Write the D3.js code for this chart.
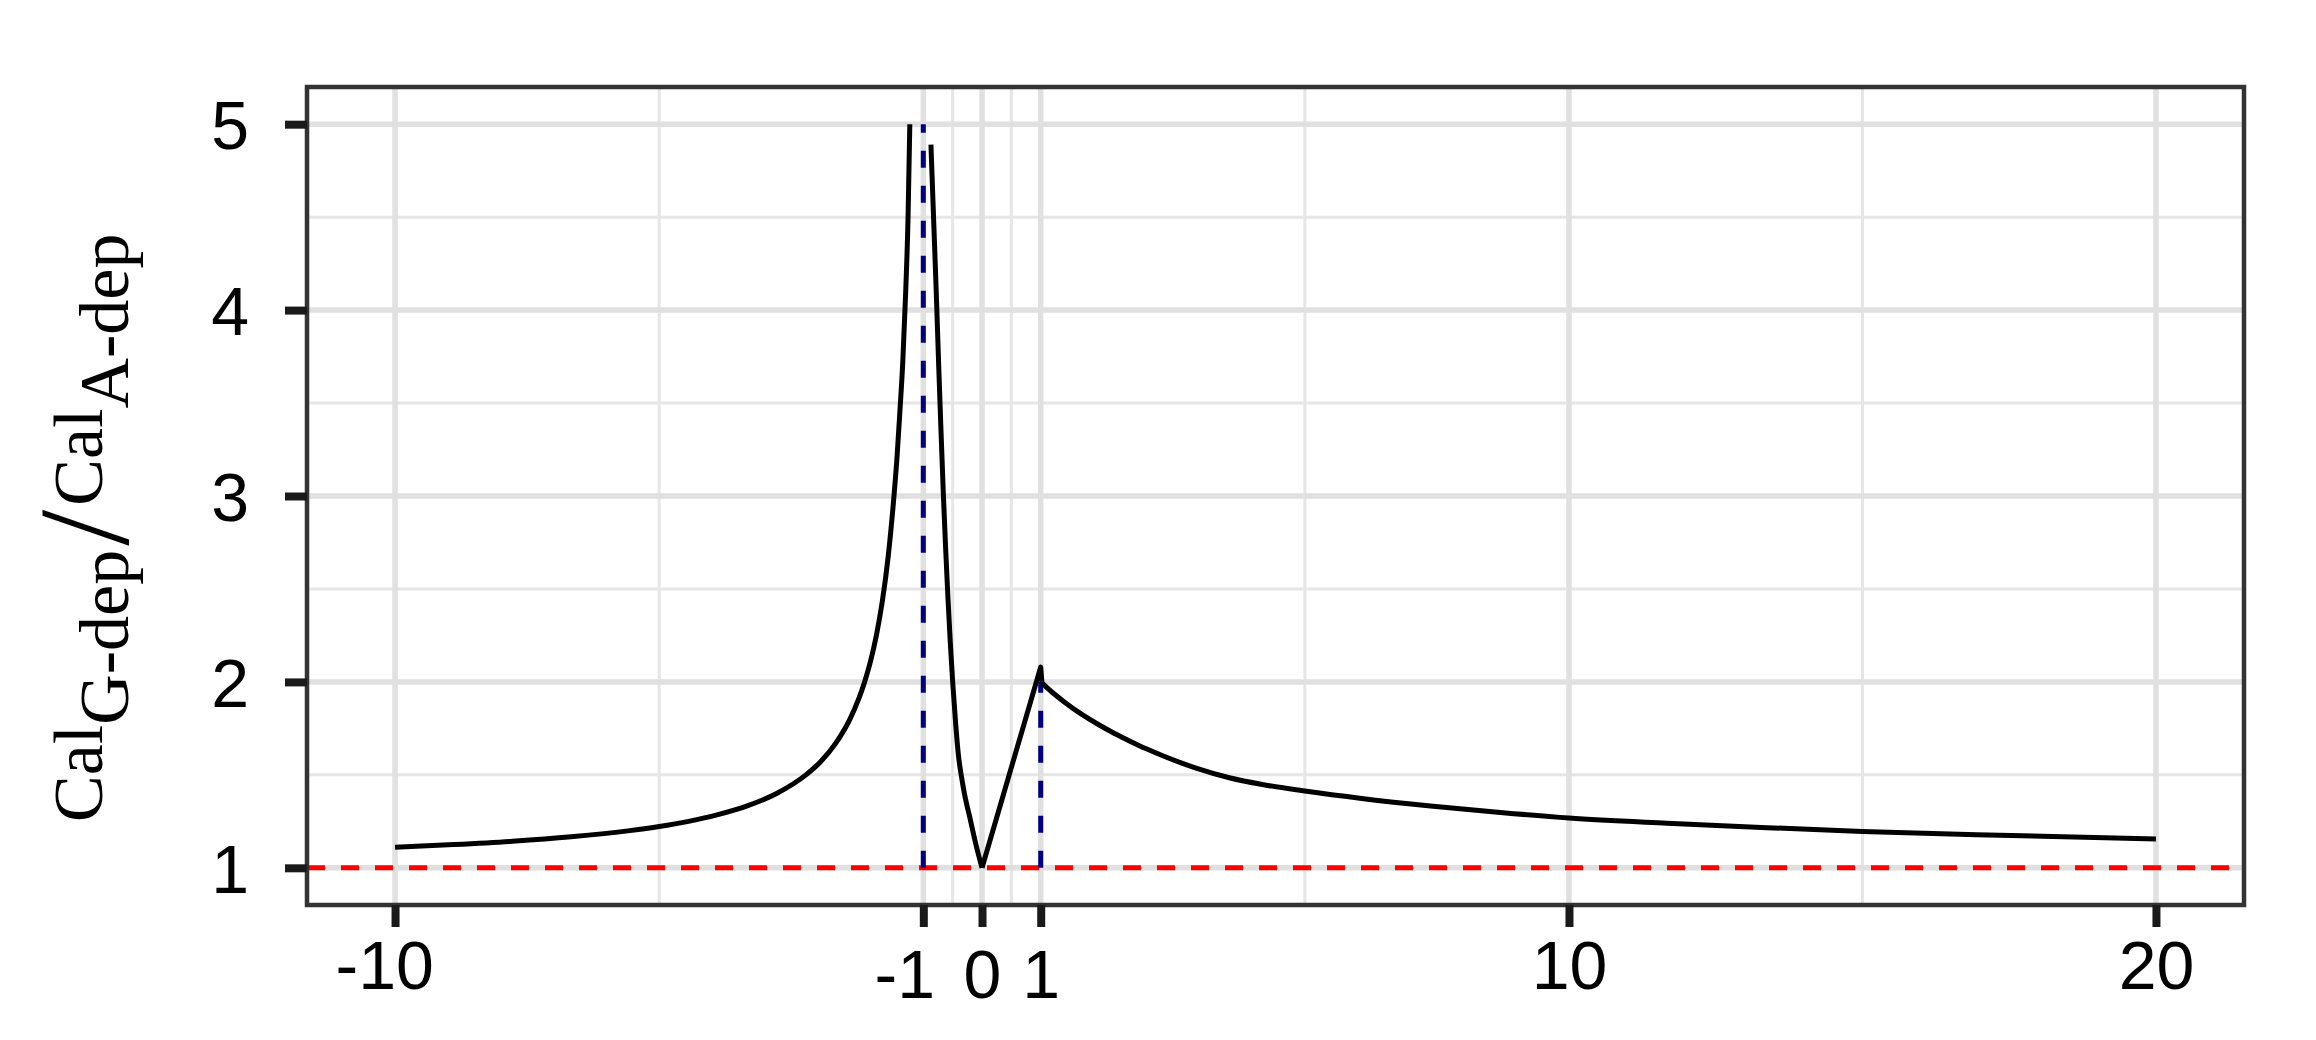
<!DOCTYPE html>
<html><head><meta charset="utf-8">
<script src="https://cdn.jsdelivr.net/npm/d3@7"></script>
<style>body{margin:0;background:#fff;} svg{display:block;}</style>
</head><body><svg id="c" width="2316" height="1040"></svg>
<script>
// ---- data ----
const xBreaks = [-10, -1, 0, 1, 10, 20];
const xLabels = ["-10", "-1", "0", "1", "10", "20"];
const xMinor = [-5.5, -0.5, 0.5, 5.5, 15];
const yBreaks = [1, 2, 3, 4, 5];
const yLabels = ["1", "2", "3", "4", "5"];
const yMinor = [1.5, 2.5, 3.5, 4.5];

// left branch (x < -1)
const leftX = [-10, -9, -8, -7, -6, -5.5, -5, -4.5, -4, -3.5, -3, -2.75, -2.5, -2.25, -2, -1.9, -1.8, -1.7, -1.6, -1.5, -1.45, -1.4, -1.35, -1.3, -1.26, -1.23];
const leftY = [1.11, 1.125, 1.143, 1.167, 1.2, 1.222, 1.25, 1.286, 1.333, 1.4, 1.5, 1.571, 1.667, 1.8, 2.0, 2.11, 2.25, 2.43, 2.67, 3.0, 3.2, 3.45, 3.72, 4.1, 4.5, 5.0];
// right of -1: falling part, rise between 0 and 1, decaying tail
const midX = [-0.87, -0.82, -0.78, -0.74, -0.7, -0.66, -0.62, -0.58, -0.54, -0.5, -0.45, -0.4, -0.35, -0.3, -0.2, -0.1, 0];
const midY = [4.89, 4.45, 4.1, 3.72, 3.36, 3.02, 2.72, 2.45, 2.21, 2.0, 1.78, 1.6, 1.49, 1.4, 1.26, 1.12, 1.0];
const riseX = [0, 1, 1.02];
const riseY = [1.0, 2.08, 2.0];
const tailX = [1.02, 1.2, 1.39, 1.7, 1.96, 2.25, 2.53, 2.8, 3.1, 3.66, 4.23, 4.8, 5.5, 6.5, 7.64, 8.83, 10, 11.67, 13.37, 15, 17.34, 20];
const tailY = [1.995, 1.943, 1.895, 1.825, 1.775, 1.724, 1.68, 1.64, 1.6, 1.535, 1.483, 1.447, 1.413, 1.372, 1.333, 1.298, 1.268, 1.24, 1.216, 1.196, 1.175, 1.155];

const refLineY = 1;
const vSegX = [-1, 1];
const vSegTop = [5, 2];

// ---- layout ----
const W = 2316, H = 1040;
const P = {left: 307, right: 2244, top: 87, bottom: 905};
const svg = d3.select("#c");
svg.append("rect").attr("width", W).attr("height", H).attr("fill", "#fff");

const x = d3.scaleLinear().domain([-11.5, 21.5]).range([P.left, P.right]);
const y = d3.scaleLinear().domain([0.8, 5.2]).range([P.bottom, P.top]);

svg.append("defs").append("clipPath").attr("id", "clip")
  .append("rect").attr("x", P.left).attr("y", P.top)
  .attr("width", P.right - P.left).attr("height", P.bottom - P.top);

const panel = svg.append("g").attr("clip-path", "url(#clip)");

// grid
panel.selectAll(".ymin").data(yMinor).join("line")
  .attr("x1", P.left).attr("x2", P.right).attr("y1", d => y(d)).attr("y2", d => y(d))
  .attr("stroke", "#e6e6e6").attr("stroke-width", 3);
panel.selectAll(".xmin").data(xMinor).join("line")
  .attr("y1", P.top).attr("y2", P.bottom).attr("x1", d => x(d)).attr("x2", d => x(d))
  .attr("stroke", "#e6e6e6").attr("stroke-width", 3);
panel.selectAll(".ymaj").data(yBreaks).join("line")
  .attr("x1", P.left).attr("x2", P.right).attr("y1", d => y(d)).attr("y2", d => y(d))
  .attr("stroke", "#e0e0e0").attr("stroke-width", 5.5);
panel.selectAll(".xmaj").data(xBreaks).join("line")
  .attr("y1", P.top).attr("y2", P.bottom).attr("x1", d => x(d)).attr("x2", d => x(d))
  .attr("stroke", "#e0e0e0").attr("stroke-width", 5.5);

// reference line
panel.append("line")
  .attr("x1", P.left).attr("x2", P.right).attr("y1", y(refLineY)).attr("y2", y(refLineY))
  .attr("stroke", "#ff0000").attr("stroke-width", 5).attr("stroke-dasharray", "18 16");

// vertical navy segments
panel.selectAll(".vseg").data(vSegX).join("line")
  .attr("x1", d => x(d)).attr("x2", d => x(d))
  .attr("y1", y(refLineY)).attr("y2", (d, i) => y(vSegTop[i]))
  .attr("stroke", "#000080").attr("stroke-width", 5).attr("stroke-dasharray", "17 18");

// curves
const smooth = d3.line().x(d => x(d[0])).y(d => y(d[1])).curve(d3.curveMonotoneX);
const straight = d3.line().x(d => x(d[0])).y(d => y(d[1]));
const zip = (a, b) => a.map((v, i) => [v, b[i]]);
[[zip(leftX, leftY), smooth], [zip(midX, midY), smooth], [zip(riseX, riseY), straight], [zip(tailX, tailY), smooth]]
  .forEach(([pts, gen]) => {
    panel.append("path").attr("d", gen(pts)).attr("fill", "none")
      .attr("stroke", "#000").attr("stroke-width", 5)
      .attr("stroke-linejoin", "round").attr("stroke-linecap", "butt");
  });

// panel border
svg.append("rect").attr("x", P.left).attr("y", P.top)
  .attr("width", P.right - P.left).attr("height", P.bottom - P.top)
  .attr("fill", "none").attr("stroke", "#333").attr("stroke-width", 4.5);

// axes
const fs = 68;
const xAxis = d3.axisBottom(x).tickValues(xBreaks).tickFormat((d, i) => xLabels[i])
  .tickSize(22).tickPadding(14);
const gx = svg.append("g").attr("transform", `translate(0,${P.bottom})`).call(xAxis);
gx.select(".domain").remove();
gx.selectAll(".tick line").attr("stroke", "#1a1a1a").attr("stroke-width", 8);
gx.selectAll(".tick text")
  .attr("font-family", "'Liberation Sans', Arial, Helvetica, sans-serif")
  .attr("font-size", fs).attr("fill", "#000")
  .attr("y", d => 22 + 14 + (Math.abs(d) <= 1 ? 9 : 0))
  .attr("dx", d => d === -1 ? "-0.28em" : (d < 0 ? "-0.16em" : 0));

const yAxis = d3.axisLeft(y).tickValues(yBreaks).tickFormat((d, i) => yLabels[i])
  .tickSize(22).tickPadding(36);
const gy = svg.append("g").attr("transform", `translate(${P.left},0)`).call(yAxis);
gy.select(".domain").remove();
gy.selectAll(".tick line").attr("stroke", "#1a1a1a").attr("stroke-width", 8);
gy.selectAll(".tick text")
  .attr("font-family", "'Liberation Sans', Arial, Helvetica, sans-serif")
  .attr("font-size", fs).attr("fill", "#000").attr("dy", "0.36em");

// y title
const tf = 70;
const title = svg.append("text")
  .attr("transform", `translate(102,822) rotate(-90)`)
  .attr("font-family", "'Liberation Serif', 'Times New Roman', serif")
  .attr("font-size", tf).attr("fill", "#000");
title.append("tspan").text("Cal");
title.append("tspan").attr("dy", 26).text("G-dep");
title.append("tspan").attr("dx", 4).attr("font-size", 130).text("/");
title.append("tspan").attr("dy", -26).attr("dx", 4).text("Cal");
title.append("tspan").attr("dy", 26).text("A-dep");
</script></body></html>
